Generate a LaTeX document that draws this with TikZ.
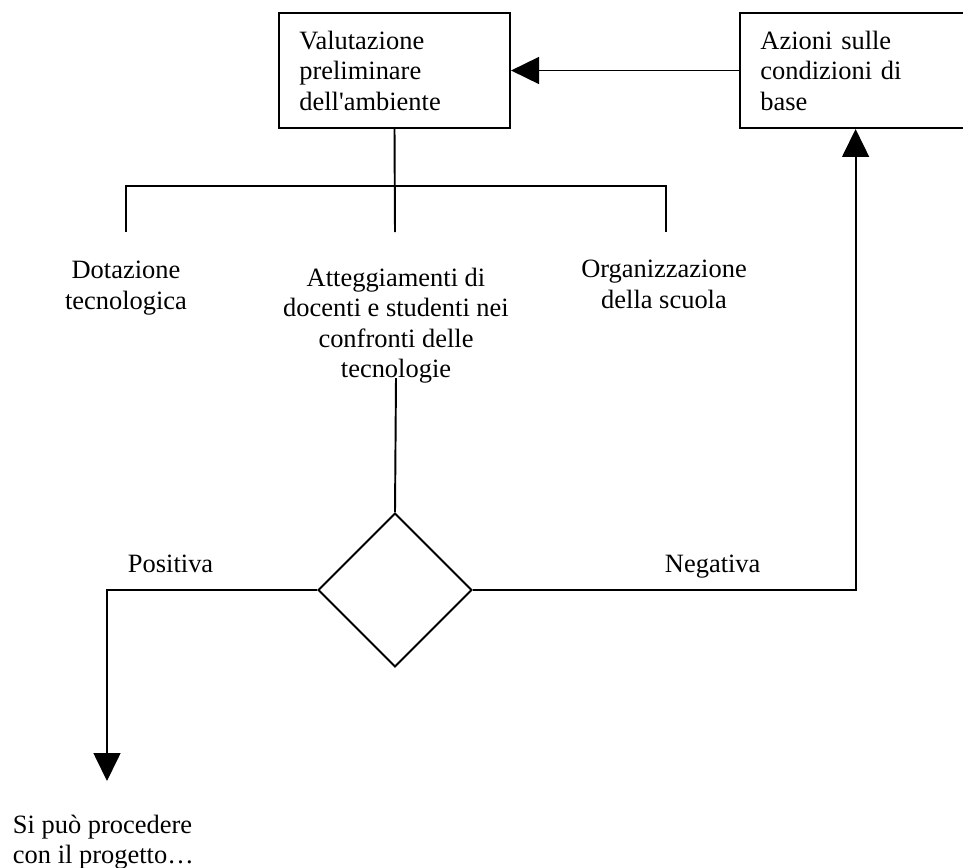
\documentclass[tikz,border=0pt]{standalone}
\usepackage{fontspec}
\setmainfont{Liberation Serif}
% same face without the TeX ligature mapping, for a straight apostrophe
\newfontfamily\rawserif{Liberation Serif}
\usetikzlibrary{arrows.meta,shapes.geometric}
\begin{document}
\begin{tikzpicture}[x=0.465pt,y=-0.465pt,
  line width=0.9pt,
  every node/.style={font=\fontsize{12.3}{14.2}\selectfont},
  box/.style={draw, rectangle, align=left, text width=88.5pt,
    inner xsep=9.5pt, minimum height=53.5pt},
  caption/.style={align=center, inner sep=0pt},
  tip/.style={-{Triangle[length=13pt,width=12.5pt]}},
  choice/.style={draw, diamond, aspect=1, minimum size=71.6pt, inner sep=0pt}]
\useasboundingbox (0,0) rectangle (963,868);

% boxes
\node[box] (val) at (394.5,70.5) {Valutazione\\preliminare\\dell{\rawserif'}ambiente};
\node[box] (azi) at (855.6,70.5) {Azioni sulle\\condizioni di\\base};

% the three aspects
\node[caption, anchor=north] (dot) at (126,260) {Dotazione\\tecnologica};
\node[caption, anchor=north] (att) at (396,267) {Atteggiamenti di\\docenti e studenti nei\\confronti delle\\tecnologie};
\node[caption, anchor=north] (org) at (664,259) {Organizzazione\\della scuola};

% decision
\node[choice] (dec) at (395,590) {};
\node[anchor=base west, inner sep=0pt] (pos) at (127,572) {Positiva};
\node[anchor=base west, inner sep=0pt] (neg) at (664,572) {Negativa};
\node[anchor=north west, inner sep=0pt, align=left] (fin) at (12,814) {Si può procedere\\con il progetto…};

% bracket below the first box
\coordinate (bm) at (395,186);
\coordinate (tm) at (395,232);
\coordinate (tl) at (126,232);
\coordinate (tr) at (666,232);
\draw (val.south) -- (tm);
\draw (tl) |- (bm) -| (tr);

% connectors
\coordinate (postip) at (107,781);
\draw ([yshift=3pt]att.south) -- (dec.north);
\draw[tip] (dec.west) -| (postip);
\draw[tip] (dec.east) -| (azi.south);
\draw[tip] (azi.west) -- (val.east);
\end{tikzpicture}
\end{document}
